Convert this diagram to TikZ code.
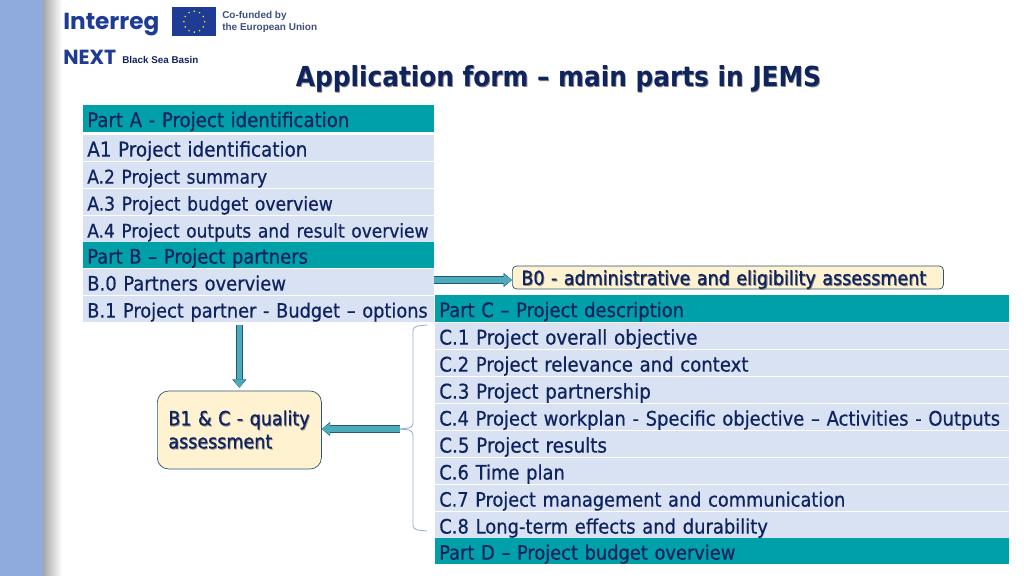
\documentclass[tikz,border=0pt]{standalone}
\usepackage{fontspec}
\setmainfont{DejaVu Sans Condensed}[UprightFeatures={FakeBold=0.6}]
\newfontfamily\logofont{Liberation Sans}
\newfontfamily\brandfont{Poppins}
\usepackage{xcolor}
\usetikzlibrary{arrows.meta, positioning, calc, shapes.geometric}
\definecolor{bandcolor}{RGB}{143, 170, 220}
\definecolor{tealcolor}{RGB}{0, 160, 168}
\definecolor{rowcolor}{RGB}{217, 226, 243}
\definecolor{inkcolor}{RGB}{15, 35, 95}
\definecolor{creamcolor}{RGB}{255, 242, 208}
\definecolor{arrowcolor}{RGB}{75, 172, 185}
\definecolor{edgecolor}{RGB}{40, 85, 120}
\definecolor{bracecolor}{RGB}{150, 170, 210}
\definecolor{flagcolor}{RGB}{30, 60, 150}
\newcommand{\shadowtext}[1]{\leavevmode\rlap{\kern0.6pt\raisebox{-0.7pt}{\textcolor{black!45}{#1}}}\mbox{#1}}
\newcommand{\rowsize}[1]{\fontsize{#1}{16}\selectfont}
\begin{document}
\begin{tikzpicture}[
    x=0.025cm, y=-0.025cm,
    rowbox/.style={anchor=west, fill=#1, text=inkcolor, inner xsep=0.1cm, inner ysep=0pt, font=\fontsize{14.2}{16}\selectfont, text height=0.48cm, text depth=0.05cm},
    leftrow/.style={rowbox=#1, text width=8.575cm, minimum height=0.655cm},
    rightrow/.style={rowbox=#1, text width=14.15cm, minimum height=0.655cm},
    assess/.style={draw=edgecolor, fill=creamcolor, text=inkcolor, line width=0.5pt},
    blockarrow/.style={draw=edgecolor, line width=5pt, -{Triangle[length=6pt,width=10pt,fill=arrowcolor,line width=0.5pt]}, postaction={draw=arrowcolor, line width=3.8pt, -{Triangle[length=6pt,width=8.5pt,fill=arrowcolor,line width=0pt]}}}
]
    \useasboundingbox (0,0) rectangle (1024,576);
    % Background
    \fill[bandcolor] (0,0) rectangle (43,576);
    \shade[left color=black!35, right color=white] (43,0) rectangle (62,576);

    % Logos
    \node[anchor=west, inner sep=0pt, text=flagcolor, font=\brandfont\fontsize{16.5}{20}\selectfont\bfseries] (interreg) at (63,25) {Interreg};
    \node[anchor=north west, fill=flagcolor, minimum width=1.1cm, minimum height=0.72cm, inner sep=0pt] (flag) at (172,7) {};
    \foreach \a in {0,30,...,330}
        \node[star, star points=5, fill=yellow!90!orange, inner sep=0pt, minimum size=1.3pt] (star\a) at ($(flag.center)+(\a:0.26cm)$) {};
    \node[anchor=west, align=left, inner sep=0pt, text=inkcolor!80, font=\logofont\fontsize{7.1}{8.5}\selectfont\bfseries] (cofunded) at (222,22) {Co-funded by\\the European Union};
    \node[anchor=west, inner sep=0pt, text=flagcolor, font=\brandfont\fontsize{14.5}{15}\selectfont\bfseries] (next) at (63,57) {NEXT};
    \node[anchor=west, inner sep=0pt, text=inkcolor, font=\logofont\fontsize{7}{8}\selectfont\bfseries] (basin) at (122,60) {Black Sea Basin};

    % Title
    \node[text=inkcolor, inner sep=0pt, font=\fontsize{19.6}{23}\selectfont\bfseries] (title) at (558.5,79) {\shadowtext{Application form – main parts in JEMS}};

    % Left table
    \foreach \name/\ypos/\tone/\rowtext in {
        parta/118.5/tealcolor/\rowsize{14.35}Part A - Project identification,
        aone/148/rowcolor/\rowsize{14.5}A1 Project identification,
        atwo/175/rowcolor/\rowsize{13.5}A.2 Project summary,
        athree/202/rowcolor/\rowsize{13.6}A.3 Project budget overview,
        afour/229/rowcolor/\rowsize{13.45}A.4 Project outputs and result overview,
        partb/255/tealcolor/Part B – Project partners,
        bzero/282/rowcolor/B.0 Partners overview,
        bone/309/rowcolor/\rowsize{14.05}B.1 Project partner - Budget – options}
        \node[leftrow=\tone] (\name) at (83,\ypos) {\mbox{\rowtext}};

    % Right table
    \foreach \name/\ypos/\tone/\rowtext in {
        partc/308.5/tealcolor/Part C – Project description,
        cone/336/rowcolor/\rowsize{14.45}C.1 Project overall objective,
        ctwo/363/rowcolor/\rowsize{14.3}C.2 Project relevance and context,
        cthree/390/rowcolor/\rowsize{14.45}C.3 Project partnership,
        cfour/417/rowcolor/C.4 Project workplan - Specific objective – Activities - Outputs,
        cfive/444/rowcolor/\rowsize{14.5}C.5 Project results,
        csix/471/rowcolor/C.6 Time plan,
        cseven/498/rowcolor/\rowsize{14.03}C.7 Project management and communication,
        ceight/525/rowcolor/C.8 Long-term effects and durability,
        partd/551/tealcolor/\rowsize{14.1}Part D – Project budget overview}
        \node[rightrow=\tone] (\name) at (435,\ypos) {\mbox{\rowtext}};

    % Assessments
    \node[assess, rounded corners=3pt, anchor=west, minimum width=10.775cm, minimum height=0.575cm, text width=10.325cm, text height=0.42cm, text depth=0.05cm, inner sep=0pt, font=\fontsize{13.85}{16}\selectfont] (bzerobox) at (512,277.5) {\shadowtext{B0 - administrative and eligibility assessment}};
    \node[assess, rounded corners=8pt, anchor=west, minimum width=4.1cm, minimum height=1.95cm, text width=3.55cm, inner sep=0pt, align=left, font=\fontsize{13.85}{16.4}\selectfont] (qualitybox) at (157,430) {\shadowtext{B1 \& C - quality}\\\shadowtext{assessment}};

    % Brace
    \coordinate (bracetip) at (400,429);
    \draw[bracecolor, line width=0.6pt, rounded corners=3pt] (427,325) -- (413,326.5) -- (413,427.5) -- (bracetip);
    \draw[bracecolor, line width=0.6pt, rounded corners=3pt] (bracetip) -- (413,430.5) -- (413,529.5) -- (427,531);

    % Arrows
    \coordinate (bzerotail) at (434,280);
    \draw[blockarrow] (bzerotail) -- (bzerobox.west |- bzerotail);
    \draw[blockarrow, shorten <=2pt, shorten >=2pt] (bone.south -| qualitybox.north) -- (qualitybox.north);
    \draw[blockarrow] (bracetip) -- (qualitybox.east |- bracetip);
\end{tikzpicture}
\end{document}
